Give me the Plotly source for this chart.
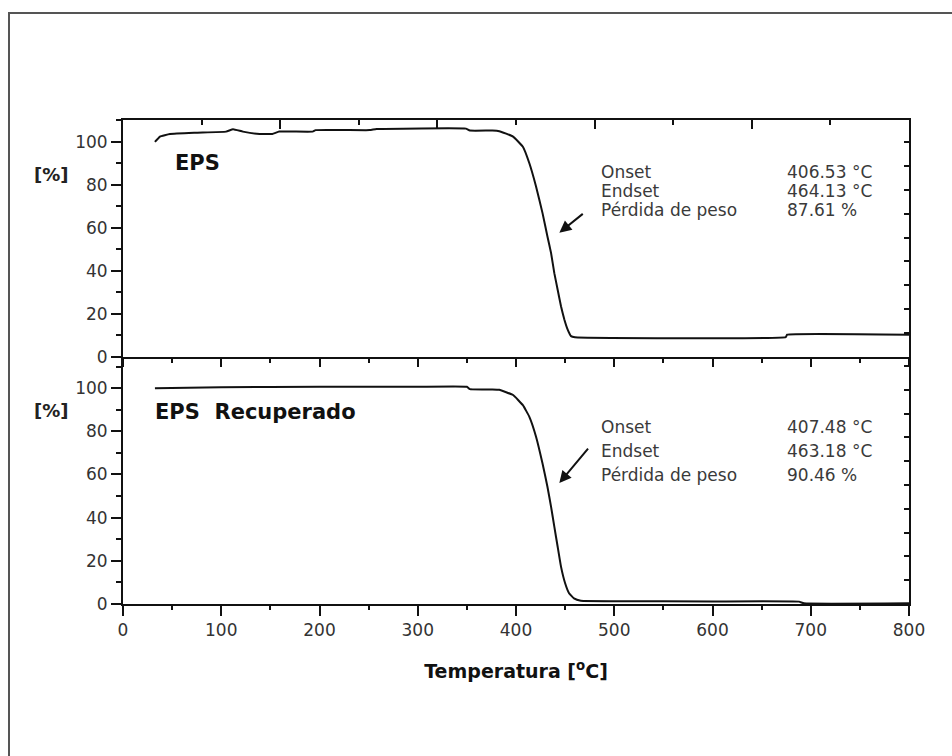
import plotly.graph_objects as go

# ---------------- data ----------------
temp_eps = [32.5, 37.6, 47.8, 75, 105, 112, 122, 139, 152, 159, 193, 196, 251, 258, 349, 353, 376, 383,
            397, 407, 413.6, 420.4, 427, 432, 435.7, 439, 442.4, 445.8, 449.2, 452.5, 456, 460, 674.5, 676, 800]
mass_eps = [100.0, 102.5, 103.7, 104.3, 104.8, 105.9, 104.8, 103.7, 103.7, 104.8, 104.8, 105.5, 105.5, 106.0, 106.2, 105.3, 105.3, 105.0,
            102.5, 97.8, 90.1, 79.3, 66.9, 56.0, 48.3, 39.0, 31.3, 23.6, 17.4, 12.8, 9.7, 9.2, 9.2, 10.4, 10.4]

temp_rec = [32.5, 100, 200, 300, 350, 353, 376, 383, 397, 407, 413.6, 420.4, 427, 432, 435.7, 439, 442.4,
            445.8, 450, 454, 459, 466, 500, 600, 688, 693, 800]
mass_rec = [99.9, 100.4, 100.6, 100.6, 100.6, 99.5, 99.4, 99.2, 96.8, 92.1, 86.7, 77.5, 65.1, 54.3, 45.0, 35.8, 26.5,
            17.3, 9.6, 5.0, 2.6, 1.5, 1.3, 1.2, 1.1, 0.3, 0.3]

panel_labels = ["EPS", "EPS\u00a0 Recuperado"]
info_names = ["Onset", "Endset", "Pérdida de peso"]
info_eps = ["406.53 °C", "464.13 °C", "87.61 %"]
info_rec = ["407.48 °C", "463.18 °C", "90.46 %"]
y_title = "[%]"
x_title = "<b>Temperatura [<sup>o</sup>C]</b>"

# ---------------- figure ----------------
FONT = "DejaVu Sans"
LINE = "#111111"
split = 247 / 484

fig = go.Figure()
fig.add_trace(go.Scatter(x=temp_eps, y=mass_eps, mode="lines",
                         line=dict(color=LINE, width=2, shape="spline", smoothing=0.3),
                         xaxis="x", yaxis="y", showlegend=False, hoverinfo="skip"))
fig.add_trace(go.Scatter(x=temp_rec, y=mass_rec, mode="lines",
                         line=dict(color=LINE, width=2, shape="spline", smoothing=0.3),
                         xaxis="x2", yaxis="y2", showlegend=False, hoverinfo="skip"))
# empty helper traces so the decorative tick axes are drawn
for xa, ya in [("x3", "y"), ("x", "y3"), ("x2", "y4")]:
    fig.add_trace(go.Scatter(x=[None], y=[None], mode="lines", xaxis=xa, yaxis=ya,
                             showlegend=False, hoverinfo="skip"))

tickfont = dict(family=FONT, size=17, color="#333333")
axline = dict(showline=True, linecolor="#111111", linewidth=2, tickcolor="#111111", tickwidth=2,
              showgrid=False, zeroline=False)

fig.update_layout(
    width=952, height=756,
    margin=dict(l=123, r=43, t=120, b=152),
    paper_bgcolor="white", plot_bgcolor="white",
    xaxis=dict(domain=[0, 1], anchor="y", range=[0, 800], ticks="outside", dtick=100, ticklen=8,
               minor=dict(ticks="outside", dtick=50, ticklen=4, tickcolor="#111111", tickwidth=2),
               showticklabels=False, **axline),
    yaxis=dict(domain=[split, 1], anchor="x", range=[0, 110.2], ticks="outside", dtick=20, ticklen=10,
               minor=dict(ticks="outside", dtick=10, ticklen=5, tickcolor="#111111", tickwidth=2),
               tickfont=tickfont, **axline),
    xaxis2=dict(domain=[0, 1], anchor="y2", range=[0, 800], ticks="outside", dtick=100, ticklen=10,
                minor=dict(ticks="outside", dtick=50, ticklen=4, tickcolor="#111111", tickwidth=2),
                tickfont=tickfont,
                title=dict(text=x_title, font=dict(family=FONT, size=19, color="#111111"), standoff=25),
                **axline),
    yaxis2=dict(domain=[0, split], anchor="x2", range=[0, 114.4], ticks="outside", dtick=20, ticklen=10,
                minor=dict(ticks="outside", dtick=10, ticklen=5, tickcolor="#111111", tickwidth=2),
                tickfont=tickfont, **axline),
    xaxis3=dict(overlaying="x", side="top", anchor="y", range=[0, 10], ticks="inside", dtick=2, ticklen=9,
                minor=dict(ticks="inside", dtick=1, ticklen=5, tickcolor="#111111", tickwidth=2),
                showticklabels=False, **axline),
    yaxis3=dict(overlaying="y", side="right", anchor="x", range=[0, 9.92], ticks="inside", dtick=1, ticklen=5,
                showticklabels=False, **axline),
    yaxis4=dict(overlaying="y2", side="right", anchor="x2", range=[0, 10.38], ticks="inside", dtick=1, ticklen=5,
                showticklabels=False, **axline),
)

ann = []
# panel labels
ann.append(dict(x=51, y=90.3, xref="x", yref="y", text="<b>%s</b>" % panel_labels[0], showarrow=False,
                xanchor="left", yanchor="middle", font=dict(family=FONT, size=21, color="#111111")))
ann.append(dict(x=30.5, y=89, xref="x2", yref="y2", text="<b>%s</b>" % panel_labels[1], showarrow=False,
                xanchor="left", yanchor="middle", font=dict(family=FONT, size=21, color="#111111")))
# [%] labels
ann.append(dict(x=-0.0916, y=84.7, xref="paper", yref="y", text="<b>%s</b>" % y_title, showarrow=False,
                xanchor="center", yanchor="middle", font=dict(family=FONT, size=18, color="#222222")))
ann.append(dict(x=-0.0916, y=89.8, xref="paper", yref="y2", text="<b>%s</b>" % y_title, showarrow=False,
                xanchor="center", yanchor="middle", font=dict(family=FONT, size=18, color="#222222")))

info_font = dict(family=FONT, size=17, color="#3a3a3a")
top_rows = [86.1, 77.3, 68.4]
bot_rows = [81.9, 70.8, 59.7]
for name, val, yy in zip(info_names, info_eps, top_rows):
    ann.append(dict(x=484.8, y=yy, xref="x", yref="y", text=name, showarrow=False, xanchor="left",
                    yanchor="middle", font=info_font))
    ann.append(dict(x=673.8, y=yy, xref="x", yref="y", text=val, showarrow=False, xanchor="left",
                    yanchor="middle", font=info_font))
for name, val, yy in zip(info_names, info_rec, bot_rows):
    ann.append(dict(x=484.8, y=yy, xref="x2", yref="y2", text=name, showarrow=False, xanchor="left",
                    yanchor="middle", font=info_font))
    ann.append(dict(x=673.8, y=yy, xref="x2", yref="y2", text=val, showarrow=False, xanchor="left",
                    yanchor="middle", font=info_font))

# arrows
ann.append(dict(x=444.1, y=57.8, ax=469.5, ay=67.1, xref="x", yref="y", axref="x", ayref="y", text="",
                showarrow=True, arrowhead=2, arrowsize=1.2, arrowwidth=2, arrowcolor="#111111"))
ann.append(dict(x=444.1, y=56.0, ax=474.6, ay=72.7, xref="x2", yref="y2", axref="x2", ayref="y2", text="",
                showarrow=True, arrowhead=2, arrowsize=1.2, arrowwidth=2, arrowcolor="#111111"))
fig.update_layout(annotations=ann)

# outer frame of the original figure (extends past the right/bottom edge)
fig.add_shape(type="rect", xref="paper", yref="paper", x0=(9 - 123) / 786, x1=1.2,
              y0=-0.5, y1=(604 - 13) / 484, line=dict(color="#555555", width=2), layer="below")

fig.write_html("out.html")
